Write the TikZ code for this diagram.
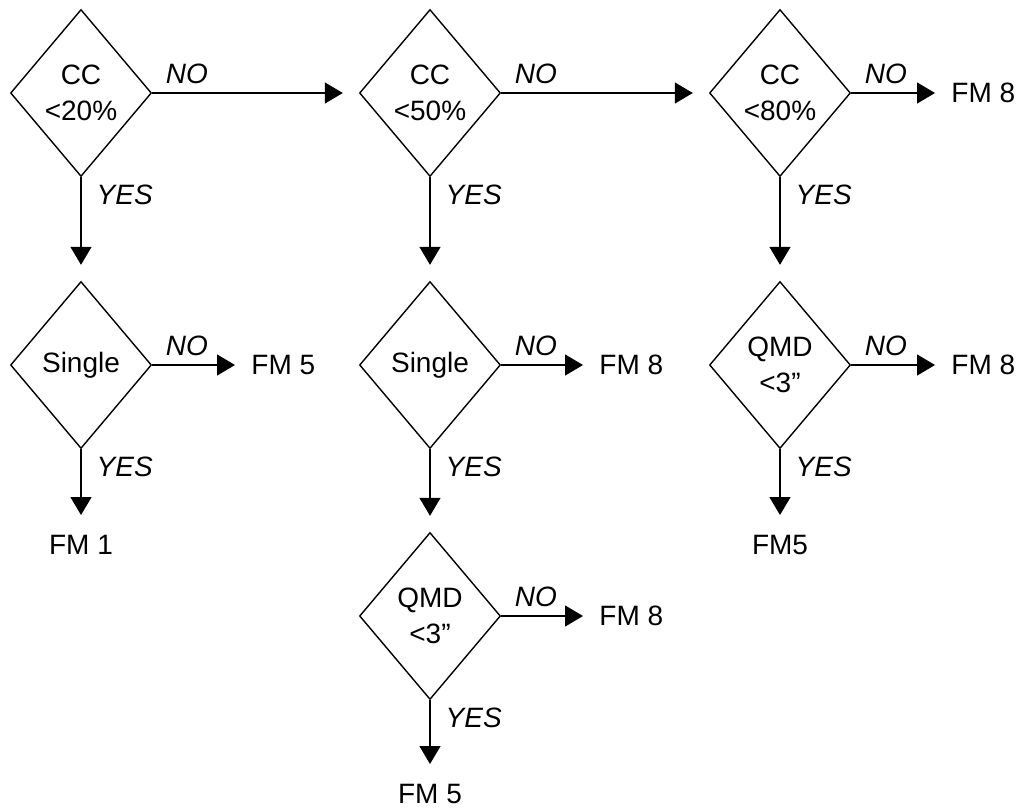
\documentclass[tikz,border=0pt]{standalone}
\usepackage{fontspec}
\setmainfont{Liberation Sans}
\usetikzlibrary{shapes.geometric, positioning, arrows.meta}

\begin{document}
\begin{tikzpicture}[
    x=0.5pt, y=-0.5pt,
    every node/.style={font=\fontsize{14}{18}\selectfont},
    test/.style={draw, diamond, line width=0.7pt, minimum width=70.5pt, minimum height=83.5pt, inner sep=0pt, align=center},
    outcome/.style={inner xsep=8pt, inner ysep=10pt},
    arrow/.style={-{Triangle[length=9pt, width=10.5pt]}, line width=0.7pt},
    gap/.style={shorten >=8pt},
    nolbl/.style={pos=0, anchor=south west, inner sep=0pt, xshift=6.5pt, yshift=4.5pt, font=\fontsize{14}{18}\selectfont\itshape},
    yeslbl/.style={pos=0, anchor=north west, inner sep=0pt, xshift=7.5pt, yshift=-3.5pt, font=\fontsize{14}{18}\selectfont\itshape}
]
    \useasboundingbox (0,0) rectangle (1035,809);

    % ---- Tests ----
    \node[test] (cc20) at (81, 93) {CC\\<20\%};
    \node[test] (cc50) at (430, 93) {CC\\<50\%};
    \node[test] (cc80) at (780, 93) {CC\\<80\%};
    \node[test] (sgl1) at (81, 365) {Single};
    \node[test] (sgl2) at (430, 365) {Single};
    \node[test] (qmd3) at (780, 365) {QMD\\<3”};
    \node[test] (qmd2) at (430, 616) {QMD\\<3”};

    % ---- Outcomes ----
    \node[outcome, anchor=west] (fm8a) at (935, 93) {FM 8};
    \node[outcome, anchor=west] (fm5a) at (235, 365) {FM 5};
    \node[outcome, anchor=west] (fm8b) at (583, 365) {FM 8};
    \node[outcome, anchor=west] (fm8c) at (935, 365) {FM 8};
    \node[outcome, anchor=west] (fm8d) at (583, 616) {FM 8};
    \node[outcome, anchor=north] (fm1) at (81, 515) {FM 1};
    \node[outcome, anchor=north] (fm5b) at (780, 515) {FM5};
    \node[outcome, anchor=north] (fm5c) at (430, 764) {FM 5};

    % ---- NO branches ----
    \draw[arrow, gap] (cc20) -- (cc50) node[nolbl] {NO};
    \draw[arrow, gap] (cc50) -- (cc80) node[nolbl] {NO};
    \draw[arrow] (cc80) -- (fm8a) node[nolbl] {NO};
    \draw[arrow] (sgl1) -- (fm5a) node[nolbl] {NO};
    \draw[arrow] (sgl2) -- (fm8b) node[nolbl] {NO};
    \draw[arrow] (qmd3) -- (fm8c) node[nolbl] {NO};
    \draw[arrow] (qmd2) -- (fm8d) node[nolbl] {NO};

    % ---- YES branches ----
    \draw[arrow, gap] (cc20) -- (sgl1) node[yeslbl] {YES};
    \draw[arrow, gap] (cc50) -- (sgl2) node[yeslbl] {YES};
    \draw[arrow, gap] (cc80) -- (qmd3) node[yeslbl] {YES};
    \draw[arrow, gap] (sgl2) -- (qmd2) node[yeslbl] {YES};
    \draw[arrow] (sgl1) -- (fm1) node[yeslbl] {YES};
    \draw[arrow] (qmd3) -- (fm5b) node[yeslbl] {YES};
    \draw[arrow] (qmd2) -- (fm5c) node[yeslbl] {YES};

\end{tikzpicture}
\end{document}
